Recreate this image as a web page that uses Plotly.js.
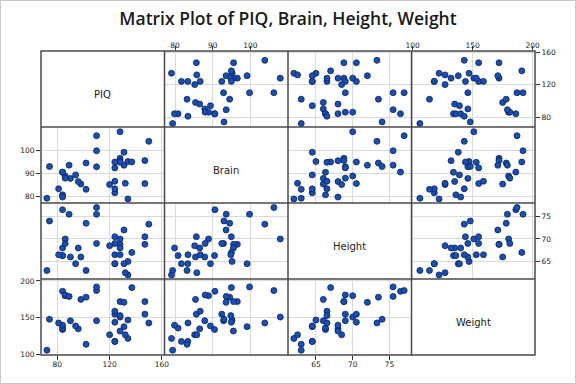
<!DOCTYPE html>
<html>
<head>
<meta charset="utf-8">
<script src="https://cdn.plot.ly/plotly-3.0.1.min.js"></script>
<style>html,body{margin:0;padding:0;background:#fff;}#chart{width:576px;height:384px;}</style>
</head>
<body>
<div id="chart"></div>
<script>
// Data: PIQ, Brain, Height, Weight (38 subjects)
const piq    = [124,150,128,134,110,131,98,84,147,124,128,124,147,90,96,120,102,84,86,84,134,128,102,131,84,110,72,124,132,137,110,86,81,128,124,94,74,89];
const brain  = [81.69,103.84,96.54,95.15,92.88,99.13,85.43,90.49,95.55,83.39,107.95,92.41,85.65,87.89,86.54,85.22,94.51,80.80,88.91,90.59,79.06,95.50,83.18,93.55,79.86,106.25,79.35,86.67,85.78,94.96,99.79,88.00,83.43,94.81,94.94,89.40,93.00,93.59];
const height = [64.5,73.3,68.8,65.0,69.0,64.5,66.0,66.3,68.8,64.5,70.0,69.0,70.5,66.0,68.0,68.5,73.5,66.3,70.0,76.5,62.0,68.0,63.0,72.0,68.0,77.0,63.0,66.5,62.5,67.0,75.5,69.0,66.5,66.5,70.5,64.5,74.0,75.5];
const weight = [118,143,172,147,146,138,175,134,172,118,151,155,155,146,135,127,178,136,180,186,122,132,114,171,140,187,106,159,127,191,192,181,143,153,144,139,148,179];

const varNames    = ['PIQ','Brain','Height','Weight'];
const piqTicks    = [80,120,160];
const brainTicks  = [80,90,100];
const heightTicks = [65,70,75];
const weightTicks = [100,150,200];

const series = [piq, brain, height, weight];
const ticks  = [piqTicks, brainTicks, heightTicks, weightTicks];

const xRanges = [[67.5,162],[77.2,110],[61.2,78],[99,202]];
const yRanges = [[67.7,161.5],[77.3,110],[61.1,78],[99.5,202.7]];

const traces = [];
for (let r = 0; r < 4; r++) {
  for (let c = 0; c < 4; c++) {
    if (r === c) continue;
    traces.push({
      type: 'scatter', mode: 'markers',
      x: series[c], y: series[r],
      xaxis: 'x' + (c === 0 ? '' : c + 1),
      yaxis: 'y' + (r === 0 ? '' : r + 1),
      marker: {size: 6, color: '#1a4fae', line: {color: '#0a2266', width: 0.8}},
      hoverinfo: 'skip', showlegend: false
    });
  }
}

const tickFont = {family: 'DejaVu Sans, sans-serif', size: 7.5, color: '#222'};
const axisCommon = {
  showgrid: true, gridcolor: '#dadada', gridwidth: 1,
  zeroline: false, showline: false,
  ticks: 'outside', ticklen: 4, tickcolor: '#333', tickwidth: 1,
  tickfont: tickFont, fixedrange: true
};

const layout = {
  width: 576, height: 384,
  margin: {l: 41, r: 41, t: 51, b: 29, pad: 0},
  paper_bgcolor: '#ffffff', plot_bgcolor: '#ffffff',
  title: {text: 'Matrix Plot of PIQ, Brain, Height, Weight',
          font: {family: 'Open Sans, sans-serif', size: 17.5, color: '#1a1a1a', weight: 600},
          x: 0.5, xref: 'container', y: 1 - 19/384, yref: 'container', yanchor: 'middle'},
  showlegend: false,
  shapes: [],
  annotations: []
};

const colSides = ['bottom','top','bottom','top'];
const colAnchor = ['y4','y','y4','y'];
const rowSides = ['right','left','right','left'];
const rowAnchor = ['x4','x','x4','x'];
for (let i = 0; i < 4; i++) {
  const xk = 'xaxis' + (i === 0 ? '' : i + 1);
  const yk = 'yaxis' + (i === 0 ? '' : i + 1);
  layout[xk] = Object.assign({}, axisCommon, {
    domain: [i/4, (i+1)/4], range: xRanges[i], tickvals: ticks[i],
    side: colSides[i], anchor: colAnchor[i],
    ticklabelstandoff: colSides[i] === 'top' ? -5 : -2
  });
  layout[yk] = Object.assign({}, axisCommon, {
    domain: [1 - (i+1)/4, 1 - i/4], range: yRanges[i], tickvals: ticks[i],
    side: rowSides[i], anchor: rowAnchor[i]
  });
  layout.annotations.push({
    text: varNames[i], showarrow: false,
    xref: 'x' + (i === 0 ? '' : i + 1) + ' domain',
    yref: 'y' + (i === 0 ? '' : i + 1) + ' domain',
    x: 0.5, y: 0.5, xanchor: 'center', yanchor: 'middle', yshift: -5,
    font: {family: 'DejaVu Sans, sans-serif', size: 10, color: '#222'}
  });
}

// panel frame
const frame = {color: '#4a4a4a', width: 1.5};
layout.shapes.push({type: 'rect', xref: 'paper', yref: 'paper', x0: 0, x1: 1, y0: 0, y1: 1, line: frame});
for (let k = 1; k < 4; k++) {
  layout.shapes.push({type: 'line', xref: 'paper', yref: 'paper', x0: k/4, x1: k/4, y0: 0, y1: 1, line: frame});
  layout.shapes.push({type: 'line', xref: 'paper', yref: 'paper', x0: 0, x1: 1, y0: k/4, y1: k/4, line: frame});
}
// outer figure border
layout.shapes.push({type: 'rect', xref: 'paper', yref: 'paper',
  x0: (0.5-41)/494, x1: (575.5-41)/494, y0: (355-383.5)/304, y1: (355-0.5)/304,
  line: {color: '#c8c8c8', width: 1}});

Plotly.newPlot('chart', traces, layout, {displayModeBar: false, staticPlot: true});
</script>
</body>
</html>
